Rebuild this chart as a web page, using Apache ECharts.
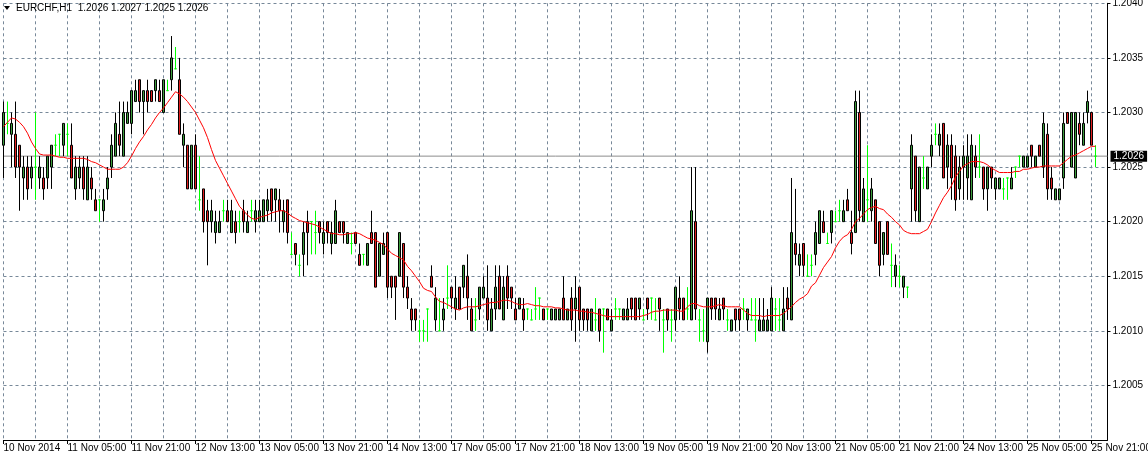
<!DOCTYPE html>
<html>
<head>
<meta charset="utf-8">
<script src="https://cdn.jsdelivr.net/npm/echarts@6/dist/echarts.min.js"></script>
<style>
html,body{margin:0;padding:0;background:#fff;}
#chart{width:1148px;height:458px;}
</style>
</head>
<body>
<div id="chart"></div>
<script>
// ---- data (EURCHF, H1) ----
const symbolTitle = 'EURCHF,H1  1.2026 1.2027 1.2025 1.2026';
const lastPrice = 1.2026;
const tickLabels = ['10 Nov 2014','11 Nov 05:00','11 Nov 21:00','12 Nov 13:00','13 Nov 05:00','13 Nov 21:00','14 Nov 13:00','17 Nov 05:00','17 Nov 21:00','18 Nov 13:00','19 Nov 05:00','19 Nov 21:00','20 Nov 13:00','21 Nov 05:00','21 Nov 21:00','24 Nov 13:00','25 Nov 05:00','25 Nov 21:00'];
const priceTicks = [1.2005,1.2010,1.2015,1.2020,1.2025,1.2030,1.2035,1.2040];

const open = [
1.2027,1.2029,1.2028,1.2028,1.2027,1.2024,1.2025,1.2024,1.2025,1.2024,
1.2024,1.2024,1.2025,1.2027,1.2028,1.2027,1.2028,1.2027,1.2023,1.2024,
1.2025,1.2022,1.2024,1.2022,1.2022,1.2021,1.2023,1.2025,1.2026,1.2028,
1.2026,1.2029,1.2029,1.2031,1.2033,1.2031,1.2032,1.2032,1.2032,1.2032,
1.2030,1.2032,1.2033,1.2034,1.2033,1.2027,1.2027,1.2023,1.2027,1.2022,
1.2023,1.2021,1.2020,1.2019,1.2019,1.2021,1.2021,1.2019,1.2020,1.2020,
1.2021,1.2019,1.2021,1.2020,1.2020,1.2020,1.2021,1.2023,1.2022,1.2022,
1.2020,1.2022,1.2017,1.2018,1.2016,1.2017,1.2020,1.2020,1.2019,1.2020,
1.2018,1.2020,1.2018,1.2018,1.2020,1.2020,1.2018,1.2018,1.2019,1.2017,
1.2017,1.2016,1.2019,1.2019,1.2015,1.2017,1.2019,1.2015,1.2015,1.2015,
1.2018,1.2014,1.2012,1.2012,1.2010,1.2010,1.2012,1.2015,1.2011,1.2010,
1.2011,1.2013,1.2014,1.2012,1.2014,1.2014,1.2015,1.2012,1.2011,1.2012,
1.2013,1.2013,1.2010,1.2012,1.2015,1.2011,1.2015,1.2014,1.2012,1.2012,
1.2012,1.2012,1.2011,1.2012,1.2013,1.2012,1.2012,1.2011,1.2011,1.2011,
1.2013,1.2011,1.2013,1.2012,1.2014,1.2012,1.2012,1.2010,1.2011,1.2012,
1.2012,1.2012,1.2010,1.2012,1.2012,1.2011,1.2011,1.2013,1.2013,1.2012,
1.2011,1.2013,1.2013,1.2011,1.2013,1.2011,1.2012,1.2011,1.2011,1.2013,
1.2013,1.2012,1.2011,1.2020,1.2011,1.2010,1.2009,1.2013,1.2013,1.2011,
1.2013,1.2011,1.2010,1.2012,1.2012,1.2012,1.2011,1.2011,1.2011,1.2010,
1.2010,1.2010,1.2010,1.2012,1.2011,1.2010,1.2013,1.2011,1.2018,1.2016,
1.2018,1.2015,1.2016,1.2017,1.2018,1.2020,1.2018,1.2019,1.2020,1.2021,
1.2020,1.2022,1.2019,1.2019,1.2030,1.2020,1.2022,1.2021,1.2022,1.2020,
1.2017,1.2020,1.2016,1.2015,1.2015,1.2014,1.2014,1.2023,1.2026,1.2020,
1.2024,1.2023,1.2026,1.2028,1.2027,1.2029,1.2025,1.2027,1.2026,1.2023,
1.2025,1.2024,1.2022,1.2026,1.2025,1.2025,1.2023,1.2025,1.2023,1.2023,
1.2023,1.2024,1.2023,1.2025,1.2026,1.2025,1.2025,1.2027,1.2025,1.2027,
1.2025,1.2028,1.2024,1.2022,1.2022,1.2024,1.2030,1.2025,1.2024,1.2029,
1.2027,1.2030,1.2030,1.2026
];
const high = [
1.2031,1.2031,1.2030,1.2031,1.2027,1.2026,1.2026,1.2026,1.2030,1.2026,
1.2025,1.2026,1.2027,1.2028,1.2028,1.2029,1.2029,1.2029,1.2026,1.2026,
1.2026,1.2026,1.2025,1.2023,1.2022,1.2023,1.2025,1.2028,1.2030,1.2031,
1.2031,1.2031,1.2032,1.2033,1.2033,1.2032,1.2033,1.2032,1.2033,1.2033,
1.2033,1.2033,1.2037,1.2036,1.2035,1.2029,1.2027,1.2027,1.2028,1.2026,
1.2023,1.2022,1.2022,1.2021,1.2021,1.2022,1.2022,1.2022,1.2021,1.2021,
1.2022,1.2021,1.2022,1.2022,1.2022,1.2022,1.2023,1.2023,1.2023,1.2023,
1.2022,1.2022,1.2019,1.2018,1.2017,1.2020,1.2021,1.2020,1.2021,1.2020,
1.2020,1.2020,1.2020,1.2022,1.2020,1.2020,1.2019,1.2019,1.2019,1.2018,
1.2017,1.2018,1.2021,1.2019,1.2018,1.2019,1.2019,1.2015,1.2015,1.2019,
1.2018,1.2015,1.2013,1.2012,1.2011,1.2011,1.2012,1.2016,1.2014,1.2013,
1.2013,1.2016,1.2014,1.2015,1.2014,1.2016,1.2017,1.2013,1.2013,1.2014,
1.2015,1.2016,1.2013,1.2016,1.2016,1.2015,1.2016,1.2014,1.2013,1.2013,
1.2013,1.2012,1.2012,1.2014,1.2013,1.2012,1.2012,1.2012,1.2012,1.2012,
1.2015,1.2012,1.2014,1.2015,1.2014,1.2012,1.2012,1.2012,1.2013,1.2012,
1.2012,1.2012,1.2012,1.2013,1.2012,1.2012,1.2013,1.2013,1.2013,1.2013,
1.2012,1.2013,1.2013,1.2013,1.2013,1.2012,1.2012,1.2012,1.2014,1.2015,
1.2013,1.2014,1.2025,1.2025,1.2012,1.2012,1.2013,1.2013,1.2013,1.2013,
1.2013,1.2012,1.2011,1.2012,1.2012,1.2013,1.2012,1.2013,1.2013,1.2013,
1.2013,1.2012,1.2014,1.2013,1.2013,1.2014,1.2014,1.2024,1.2023,1.2018,
1.2018,1.2017,1.2017,1.2020,1.2021,1.2021,1.2019,1.2021,1.2021,1.2022,
1.2022,1.2023,1.2021,1.2032,1.2032,1.2024,1.2027,1.2024,1.2022,1.2020,
1.2019,1.2020,1.2018,1.2017,1.2016,1.2015,1.2014,1.2028,1.2026,1.2025,
1.2026,1.2025,1.2028,1.2029,1.2029,1.2029,1.2028,1.2028,1.2027,1.2026,
1.2027,1.2028,1.2028,1.2027,1.2028,1.2025,1.2025,1.2025,1.2024,1.2024,
1.2024,1.2024,1.2025,1.2025,1.2026,1.2026,1.2026,1.2027,1.2026,1.2027,
1.2030,1.2029,1.2025,1.2023,1.2023,1.2030,1.2030,1.2030,1.2030,1.2030,
1.2030,1.2032,1.2030,1.2027
];
const low = [
1.2024,1.2028,1.2025,1.2024,1.2021,1.2022,1.2022,1.2023,1.2022,1.2023,
1.2022,1.2023,1.2023,1.2026,1.2026,1.2026,1.2026,1.2024,1.2022,1.2023,
1.2022,1.2022,1.2022,1.2021,1.2020,1.2020,1.2022,1.2024,1.2026,1.2026,
1.2026,1.2029,1.2028,1.2031,1.2030,1.2028,1.2030,1.2031,1.2031,1.2031,
1.2030,1.2032,1.2032,1.2034,1.2028,1.2025,1.2023,1.2023,1.2023,1.2021,
1.2019,1.2016,1.2019,1.2018,1.2019,1.2020,1.2020,1.2019,1.2018,1.2019,
1.2019,1.2019,1.2020,1.2019,1.2020,1.2020,1.2020,1.2020,1.2020,1.2019,
1.2019,1.2018,1.2017,1.2016,1.2015,1.2015,1.2016,1.2017,1.2017,1.2018,
1.2017,1.2018,1.2017,1.2018,1.2019,1.2018,1.2018,1.2017,1.2018,1.2016,
1.2016,1.2016,1.2018,1.2014,1.2015,1.2017,1.2013,1.2013,1.2011,1.2015,
1.2013,1.2012,1.2010,1.2010,1.2009,1.2009,1.2009,1.2014,1.2010,1.2010,
1.2010,1.2012,1.2012,1.2011,1.2012,1.2013,1.2011,1.2010,1.2010,1.2011,
1.2013,1.2010,1.2010,1.2011,1.2012,1.2011,1.2012,1.2012,1.2011,1.2012,
1.2010,1.2011,1.2011,1.2011,1.2011,1.2011,1.2011,1.2011,1.2011,1.2011,
1.2011,1.2011,1.2010,1.2009,1.2010,1.2010,1.2010,1.2010,1.2010,1.2009,
1.2008,1.2011,1.2010,1.2011,1.2011,1.2011,1.2011,1.2011,1.2011,1.2011,
1.2011,1.2011,1.2011,1.2011,1.2010,1.2008,1.2010,1.2009,1.2010,1.2011,
1.2011,1.2011,1.2011,1.2011,1.2009,1.2009,1.2008,1.2011,1.2011,1.2011,
1.2011,1.2010,1.2010,1.2010,1.2010,1.2011,1.2010,1.2011,1.2009,1.2010,
1.2010,1.2010,1.2010,1.2010,1.2010,1.2010,1.2011,1.2011,1.2016,1.2015,
1.2015,1.2015,1.2015,1.2016,1.2018,1.2019,1.2018,1.2018,1.2020,1.2020,
1.2020,1.2021,1.2017,1.2019,1.2020,1.2020,1.2020,1.2020,1.2018,1.2015,
1.2016,1.2017,1.2014,1.2014,1.2014,1.2013,1.2013,1.2020,1.2020,1.2020,
1.2023,1.2023,1.2025,1.2027,1.2026,1.2024,1.2023,1.2022,1.2021,1.2022,
1.2022,1.2022,1.2022,1.2024,1.2024,1.2022,1.2021,1.2023,1.2022,1.2023,
1.2022,1.2022,1.2023,1.2024,1.2025,1.2025,1.2025,1.2025,1.2025,1.2026,
1.2024,1.2022,1.2022,1.2022,1.2022,1.2023,1.2029,1.2025,1.2024,1.2027,
1.2027,1.2029,1.2027,1.2025
];
const close = [
1.2030,1.2029,1.2029,1.2025,1.2025,1.2025,1.2023,1.2025,1.2025,1.2025,
1.2023,1.2026,1.2027,1.2027,1.2028,1.2029,1.2028,1.2024,1.2025,1.2025,
1.2023,1.2025,1.2023,1.2021,1.2022,1.2022,1.2024,1.2027,1.2029,1.2027,
1.2030,1.2030,1.2032,1.2032,1.2031,1.2032,1.2031,1.2031,1.2033,1.2031,
1.2033,1.2032,1.2035,1.2034,1.2028,1.2028,1.2023,1.2027,1.2023,1.2022,
1.2020,1.2020,1.2021,1.2020,1.2020,1.2021,1.2020,1.2021,1.2019,1.2020,
1.2020,1.2020,1.2021,1.2021,1.2021,1.2022,1.2022,1.2021,1.2023,1.2021,
1.2021,1.2019,1.2017,1.2017,1.2016,1.2019,1.2019,1.2020,1.2019,1.2019,
1.2019,1.2019,1.2019,1.2021,1.2019,1.2019,1.2019,1.2018,1.2018,1.2016,
1.2017,1.2018,1.2018,1.2014,1.2018,1.2018,1.2014,1.2014,1.2014,1.2019,
1.2014,1.2013,1.2011,1.2011,1.2010,1.2010,1.2012,1.2014,1.2013,1.2010,
1.2012,1.2013,1.2013,1.2013,1.2012,1.2016,1.2013,1.2010,1.2011,1.2014,
1.2014,1.2011,1.2012,1.2014,1.2012,1.2014,1.2013,1.2013,1.2011,1.2013,
1.2011,1.2012,1.2011,1.2012,1.2013,1.2011,1.2012,1.2012,1.2012,1.2012,
1.2011,1.2012,1.2011,1.2013,1.2011,1.2011,1.2011,1.2012,1.2011,1.2010,
1.2012,1.2011,1.2011,1.2012,1.2012,1.2012,1.2012,1.2012,1.2011,1.2013,
1.2011,1.2012,1.2013,1.2011,1.2012,1.2011,1.2011,1.2011,1.2014,1.2012,
1.2011,1.2012,1.2021,1.2012,1.2011,1.2010,1.2013,1.2012,1.2012,1.2012,
1.2012,1.2011,1.2011,1.2011,1.2011,1.2012,1.2012,1.2011,1.2011,1.2011,
1.2011,1.2011,1.2013,1.2012,1.2011,1.2012,1.2012,1.2019,1.2017,1.2017,
1.2016,1.2015,1.2016,1.2019,1.2021,1.2019,1.2018,1.2021,1.2020,1.2021,
1.2021,1.2021,1.2018,1.2031,1.2021,1.2023,1.2022,1.2023,1.2018,1.2016,
1.2019,1.2017,1.2016,1.2016,1.2015,1.2015,1.2014,1.2027,1.2021,1.2025,
1.2024,1.2025,1.2027,1.2028,1.2028,1.2024,1.2027,1.2024,1.2022,1.2025,
1.2026,1.2026,1.2027,1.2025,1.2025,1.2023,1.2025,1.2024,1.2024,1.2024,
1.2023,1.2024,1.2024,1.2025,1.2026,1.2026,1.2026,1.2026,1.2026,1.2026,
1.2029,1.2023,1.2023,1.2023,1.2023,1.2029,1.2029,1.2030,1.2030,1.2028,
1.2029,1.2031,1.2027,1.2026
];
// moving average (red line)
const ma = [
1.20287,1.20291,1.20295,1.20294,1.20291,1.20287,1.20281,1.20273,1.20267,1.20262,
1.20261,1.20261,1.20261,1.20260,1.20259,1.20259,1.20258,1.20258,1.20258,1.20258,
1.20258,1.20257,1.20255,1.20254,1.20252,1.20250,1.20248,1.20248,1.20248,1.20248,
1.20250,1.20254,1.20260,1.20267,1.20273,1.20278,1.20284,1.20289,1.20295,1.20300,
1.20304,1.20309,1.20314,1.20319,1.20317,1.20314,1.20310,1.20305,1.20300,1.20293,
1.20286,1.20277,1.20266,1.20256,1.20249,1.20242,1.20235,1.20228,1.20221,1.20214,
1.20210,1.20206,1.20203,1.20202,1.20204,1.20205,1.20206,1.20208,1.20209,1.20210,
1.20210,1.20208,1.20205,1.20203,1.20201,1.20200,1.20199,1.20198,1.20197,1.20195,
1.20193,1.20191,1.20189,1.20189,1.20188,1.20188,1.20189,1.20189,1.20190,1.20189,
1.20187,1.20185,1.20184,1.20183,1.20181,1.20179,1.20175,1.20171,1.20169,1.20167,
1.20165,1.20159,1.20155,1.20150,1.20145,1.20139,1.20137,1.20136,1.20131,1.20127,
1.20126,1.20124,1.20122,1.20120,1.20119,1.20121,1.20122,1.20122,1.20122,1.20123,
1.20124,1.20125,1.20126,1.20126,1.20127,1.20128,1.20128,1.20127,1.20125,1.20124,
1.20124,1.20125,1.20124,1.20123,1.20123,1.20122,1.20122,1.20122,1.20121,1.20121,
1.20120,1.20119,1.20119,1.20119,1.20118,1.20118,1.20117,1.20117,1.20116,1.20115,
1.20114,1.20113,1.20113,1.20113,1.20113,1.20113,1.20113,1.20113,1.20113,1.20113,
1.20114,1.20115,1.20117,1.20118,1.20118,1.20119,1.20119,1.20119,1.20119,1.20118,
1.20118,1.20122,1.20125,1.20125,1.20123,1.20122,1.20122,1.20122,1.20123,1.20124,
1.20123,1.20122,1.20122,1.20122,1.20122,1.20119,1.20116,1.20114,1.20114,1.20114,
1.20113,1.20114,1.20114,1.20114,1.20114,1.20116,1.20119,1.20122,1.20126,1.20129,
1.20131,1.20134,1.20141,1.20144,1.20151,1.20158,1.20163,1.20168,1.20176,1.20182,
1.20186,1.20188,1.20193,1.20200,1.20203,1.20207,1.20211,1.20213,1.20214,1.20212,
1.20211,1.20207,1.20204,1.20200,1.20197,1.20192,1.20190,1.20189,1.20189,1.20189,
1.20191,1.20193,1.20200,1.20208,1.20215,1.20222,1.20227,1.20233,1.20241,1.20246,
1.20251,1.20253,1.20255,1.20255,1.20255,1.20254,1.20252,1.20249,1.20247,1.20245,
1.20245,1.20245,1.20245,1.20246,1.20246,1.20248,1.20248,1.20249,1.20250,1.20250,
1.20251,1.20251,1.20251,1.20251,1.20251,1.20254,1.20257,1.20260,1.20261,1.20263,
1.20265,1.20267,1.20269,1.20269
];

// hourly bar times (weekends skipped), plus a few empty slots on the right
const MONTHS = ['Jan','Feb','Mar','Apr','May','Jun','Jul','Aug','Sep','Oct','Nov','Dec'];
const times = [];
(function () {
  let t = Date.UTC(2014, 10, 10, 13);
  while (times.length < open.length + 3) {
    const d = new Date(t);
    const wd = d.getUTCDay();
    if (wd !== 0 && wd !== 6) {
      times.push(d.getUTCDate() + ' ' + MONTHS[d.getUTCMonth()] + ' ' +
        String(d.getUTCHours()).padStart(2, '0') + ':00');
    }
    t += 3600000;
  }
})();

const candles = open.map((o, i) => [o, close[i], low[i], high[i]]);

const FONT = 'Liberation Sans';
const GRID = '#778899';

const chart = echarts.init(document.getElementById('chart'), null, {renderer: 'canvas'});
chart.setOption({
  animation: false,
  backgroundColor: '#ffffff',
  textStyle: {fontFamily: FONT},
  grid: {left: 3.5, right: 40.5, top: 3.3, bottom: 18, containLabel: false, outerBoundsMode: 'none'},
  xAxis: {
    type: 'category',
    data: times,
    boundaryGap: false,
    axisLine: {show: true, lineStyle: {color: '#000', width: 1}},
    axisTick: {show: true, length: 4, interval: (i) => i % 16 === 0 && i < open.length, lineStyle: {color: '#000'}},
    axisLabel: {
      show: true, interval: (i) => i % 16 === 0 && i < open.length,
      formatter: (v, i) => tickLabels[Math.round(i / 16)] || '',
      align: 'left', margin: 3, fontSize: 10, color: '#000', fontFamily: FONT,
      hideOverlap: false
    },
    splitLine: {show: true, interval: (i) => i % 8 === 0, lineStyle: {color: GRID, type: [3, 3], width: 1}}
  },
  yAxis: {
    type: 'value', position: 'right',
    min: 1.2000, max: 1.2040, interval: 0.0005,
    axisLine: {show: true, lineStyle: {color: '#000', width: 1}},
    axisTick: {show: true, length: 3, lineStyle: {color: '#000'}},
    axisLabel: {
      show: true, showMinLabel: false, margin: 5, fontSize: 10, color: '#000', fontFamily: FONT,
      formatter: (v) => priceTicks.some(p => Math.abs(p - v) < 1e-7) ? v.toFixed(4) : ''
    },
    splitLine: {show: true, lineStyle: {color: GRID, type: [3, 3], width: 1}}
  },
  series: [
    {
      type: 'candlestick',
      data: candles,
      barWidth: 2,
      clip: false,
      itemStyle: {
        color: '#3c9c3c', color0: '#e01e1e',
        borderColor: '#000000', borderColor0: '#000000',
        borderColorDoji: '#00ff00', borderWidth: 1
      },
      emphasis: {disabled: true}
    },
    {
      type: 'line',
      data: ma,
      showSymbol: false,
      symbol: 'none',
      smooth: false,
      z: 3,
      lineStyle: {color: '#ff0000', width: 1},
      emphasis: {disabled: true}
    },
    {
      // current bid line with its price tag on the right axis
      type: 'line',
      data: [[0, lastPrice], [times.length - 1, lastPrice]],
      showSymbol: false,
      symbol: 'none',
      z: 1,
      silent: true,
      lineStyle: {color: '#8c8c8c', width: 1},
      emphasis: {disabled: true},
      endLabel: {
        show: true, distance: 3,
        formatter: lastPrice.toFixed(4),
        backgroundColor: '#000', color: '#fff', padding: [1, 3, 0, 3],
        fontSize: 10, fontFamily: FONT
      }
    }
  ],
  graphic: [
    {type: 'polygon', shape: {points: [[4, 6], [10, 6], [7, 10]]}, style: {fill: '#000'}, z: 100},
    {type: 'text', left: 16, top: 3, style: {text: symbolTitle, fill: '#000', font: '10px ' + FONT}, z: 100}
  ]
});
</script>
</body>
</html>
